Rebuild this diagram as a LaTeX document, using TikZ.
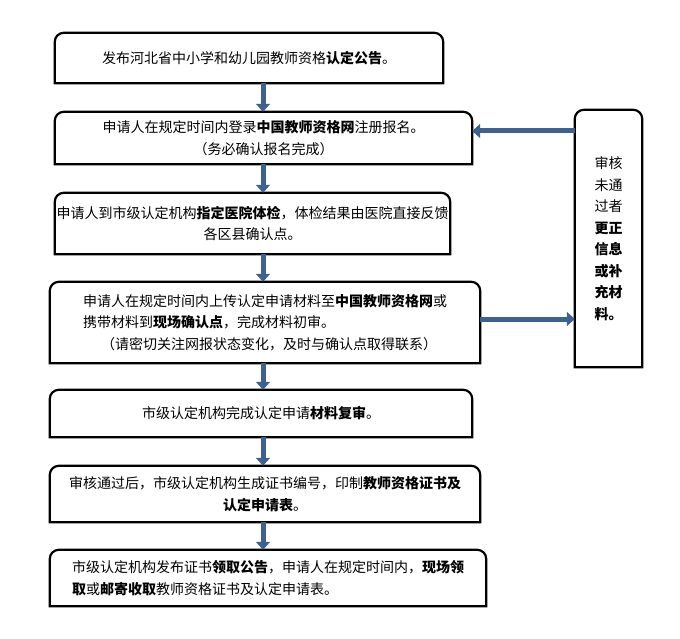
\documentclass[tikz,border=0pt]{standalone}
\usepackage{fontspec}
\setmainfont{Noto Sans CJK SC}
\usetikzlibrary{arrows.meta}
\definecolor{bleu}{HTML}{3D6291}
\newcommand{\cadre}[1]{\draw[line width=2.2pt] (#1.south west) [rounded corners=9pt] -- (#1.north west) -- (#1.north east) [sharp corners] -- (#1.south east) -- cycle;}
\begin{document}
\begin{tikzpicture}[x=1pt, y=-1pt]
  \tikzstyle{etape}=[inner sep=0, font=\fontsize{14}{21.5}\selectfont];
  \tikzstyle{fleche}=[line width=5pt, bleu, -{Triangle[length=8pt, width=14pt]}];

  \useasboundingbox (0,0) rectangle (680,639);

  \node[etape, minimum width=388, minimum height=50] (e1) at (249,58) {发布河北省中小学和幼儿园教师资格\textbf{认定公告}。};
  \node[etape, minimum width=417, minimum height=52, align=center] (e2) at (263.5,138) {申请人在规定时间内登录\textbf{中国教师资格网}注册报名。\\（务必确认报名完成）};
  \node[etape, minimum width=395, minimum height=61, align=center] (e3) at (252.5,223.5) {申请人到市级认定机构\textbf{指定医院体检}，体检结果由医院直接反馈\\各区县确认点。};
  \node[etape, minimum width=430, minimum height=81, align=left] (e4) at (265,322.5) {申请人在规定时间内上传认定申请材料至\textbf{中国教师资格网}或\\携带材料到\textbf{现场确认点}，完成材料初审。\\\hspace{1.3em}（请密切关注网报状态变化，及时与确认点取得联系）};
  \node[etape, minimum width=422, minimum height=47] (e5) at (261,413.5) {市级认定机构完成认定申请\textbf{材料复审}。};
  \node[etape, minimum width=430, minimum height=56, align=center] (e6) at (265,494) {审核通过后，市级认定机构生成证书编号，印制\textbf{教师资格证书及}\\\textbf{认定申请表}。};
  \node[etape, minimum width=436, minimum height=56, align=left] (e7) at (268,578) {市级认定机构发布证书\textbf{领取公告}，申请人在规定时间内，\textbf{现场领}\\\textbf{取}或\textbf{邮寄收取}教师资格证书及认定申请表。};
  \node[etape, minimum width=67, minimum height=257, align=center] (rv) at (608.5,238.5) {审核\\未通\\过者\\\textbf{更正}\\\textbf{信息}\\\textbf{或补}\\\textbf{充材}\\\textbf{料。}};

  \foreach \n in {e1,e2,e3,e4,e5,e6,e7,rv} {\cadre{\n}}

  \coordinate (axe) at (263,0);
  \draw[fleche] (e1.south -| axe) -- (e2.north -| axe);
  \draw[fleche] (e2.south -| axe) -- (e3.north -| axe);
  \draw[fleche] (e3.south -| axe) -- (e4.north -| axe);
  \draw[fleche] (e4.south -| axe) -- (e5.north -| axe);
  \draw[fleche] (e5.south -| axe) -- (e6.north -| axe);
  \draw[fleche] (e6.south -| axe) -- (e7.north -| axe);
  \draw[fleche] (rv.west |- 0,131) -- (e2.east |- 0,131);
  \draw[fleche] (e4.east |- 0,319) -- (rv.west |- 0,319);
\end{tikzpicture}
\end{document}
